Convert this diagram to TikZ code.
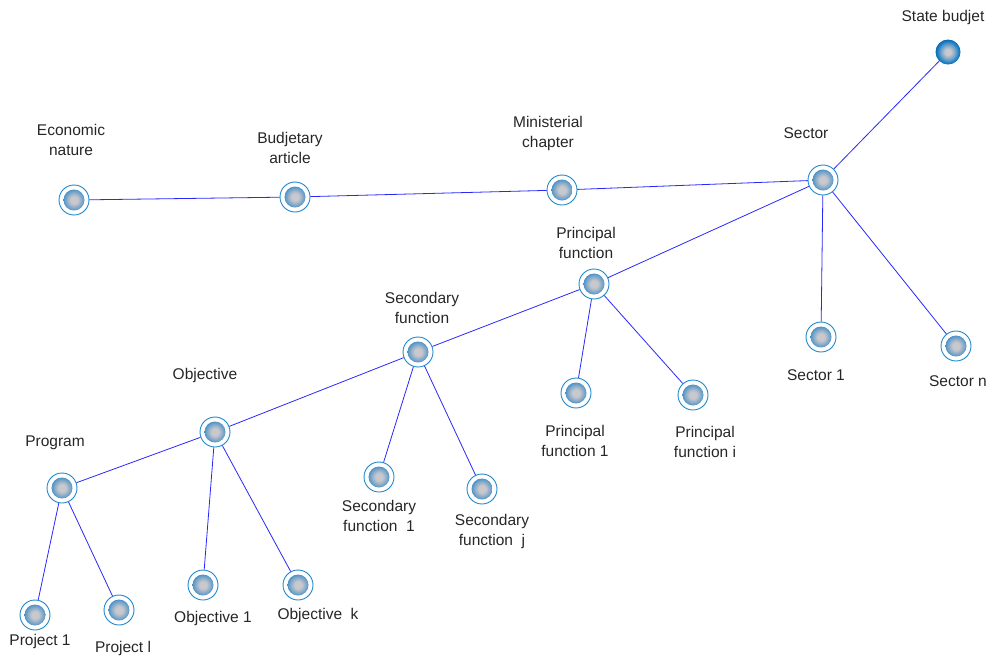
\documentclass[tikz,border=0pt]{standalone}
\usepackage{fontspec}
\setmainfont{Liberation Sans}
\definecolor{ringblue}{RGB}{30,135,200}
\definecolor{ballrim}{RGB}{10,105,175}
\definecolor{ballout}{RGB}{30,130,200}
\definecolor{ballmid}{RGB}{110,160,200}
\definecolor{ballin}{RGB}{200,200,205}
\definecolor{edgeblue}{RGB}{40,40,250}
\pgfdeclareradialshading{ballsh}{\pgfpoint{0bp}{0bp}}{color(0bp)=(ballin); color(6bp)=(ballin); color(15bp)=(ballmid); color(21bp)=(ballout); color(25bp)=(ballrim); color(50bp)=(ballrim)}
\begin{document}
\begin{tikzpicture}[x=1pt,y=-1pt,
  nd/.style={circle,minimum size=30pt,inner sep=0pt,draw=ringblue,line width=0.9pt,fill=white,
    path picture={\shade[shading=ballsh] (path picture bounding box.center) circle (10.5pt);}},
  rootnd/.style={circle,minimum size=25pt,inner sep=0pt,
    path picture={\shade[shading=ballsh] (path picture bounding box.center) circle (12.5pt);}},
  lbl/.style={align=center,font=\fontsize{15.5}{20}\selectfont,text=black!85,inner sep=0pt},
  edge/.style={draw=edgeblue,line width=0.8pt}]
\useasboundingbox (0,0) rectangle (998,657);
% nodes
\node[rootnd] (state) at (948,52) {};
\node[nd] (sector) at (823,180) {};
\node[nd] (min) at (562,190) {};
\node[nd] (art) at (295,197) {};
\node[nd] (eco) at (74,200) {};
\node[nd] (pf) at (594,284) {};
\node[nd] (sf) at (418,352) {};
\node[nd] (obj) at (215,432) {};
\node[nd] (prog) at (62,488) {};
\node[nd] (p1) at (35,615) {};
\node[nd] (pl) at (119,610) {};
\node[nd] (o1) at (203,585) {};
\node[nd] (ok) at (298,585) {};
\node[nd] (sf1) at (379,477) {};
\node[nd] (sfj) at (482,489) {};
\node[nd] (pf1) at (576,393) {};
\node[nd] (pfi) at (693,395) {};
\node[nd] (s1) at (821,337) {};
\node[nd] (sn) at (956,346) {};
% labels
\node[lbl] (Lstate) at (943,17) {State budjet};
\node[lbl] (Lsector) at (806,133) {Sector};
\node[lbl] (Lmin) at (548,133) {Ministerial\\chapter};
\node[lbl] (Lart) at (290,148) {Budjetary\\article};
\node[lbl] (Leco) at (71,140) {Economic\\nature};
\node[lbl] (Lpf) at (586,243) {Principal\\function};
\node[lbl] (Lsf) at (422,308) {Secondary\\function};
\node[lbl] (Lobj) at (205,375) {Objective};
\node[lbl] (Lprog) at (55,443) {Program};
\node[lbl] (Lp1) at (40,641) {Project 1};
\node[lbl] (Lpl) at (123,648) {Project l};
\node[lbl] (Lo1) at (213,618) {Objective 1};
\node[lbl] (Lok) at (318,615) {Objective\ \ k};
\node[lbl] (Lsf1) at (379,516) {Secondary\\function\ \ 1};
\node[lbl] (Lsfj) at (492,531) {Secondary\\function\ \ j};
\node[lbl] (Lpf1) at (575,441) {Principal\\function 1};
\node[lbl] (Lpfi) at (705,442) {Principal\\function i};
\node[lbl] (Ls1) at (816,375) {Sector 1};
\node[lbl] (Lsn) at (958,381) {Sector n};
% edges
\path[edge] (state) -- (sector);
\path[edge] (sector) -- (min);
\path[edge] (min) -- (art);
\path[edge] (art) -- (eco);
\path[edge] (sector) -- (pf);
\path[edge] (sector) -- (s1);
\path[edge] (sector) -- (sn);
\path[edge] (pf) -- (sf);
\path[edge] (pf) -- (pf1);
\path[edge] (pf) -- (pfi);
\path[edge] (sf) -- (obj);
\path[edge] (sf) -- (sf1);
\path[edge] (sf) -- (sfj);
\path[edge] (obj) -- (prog);
\path[edge] (obj) -- (o1);
\path[edge] (obj) -- (ok);
\path[edge] (prog) -- (p1);
\path[edge] (prog) -- (pl);
\end{tikzpicture}
\end{document}
